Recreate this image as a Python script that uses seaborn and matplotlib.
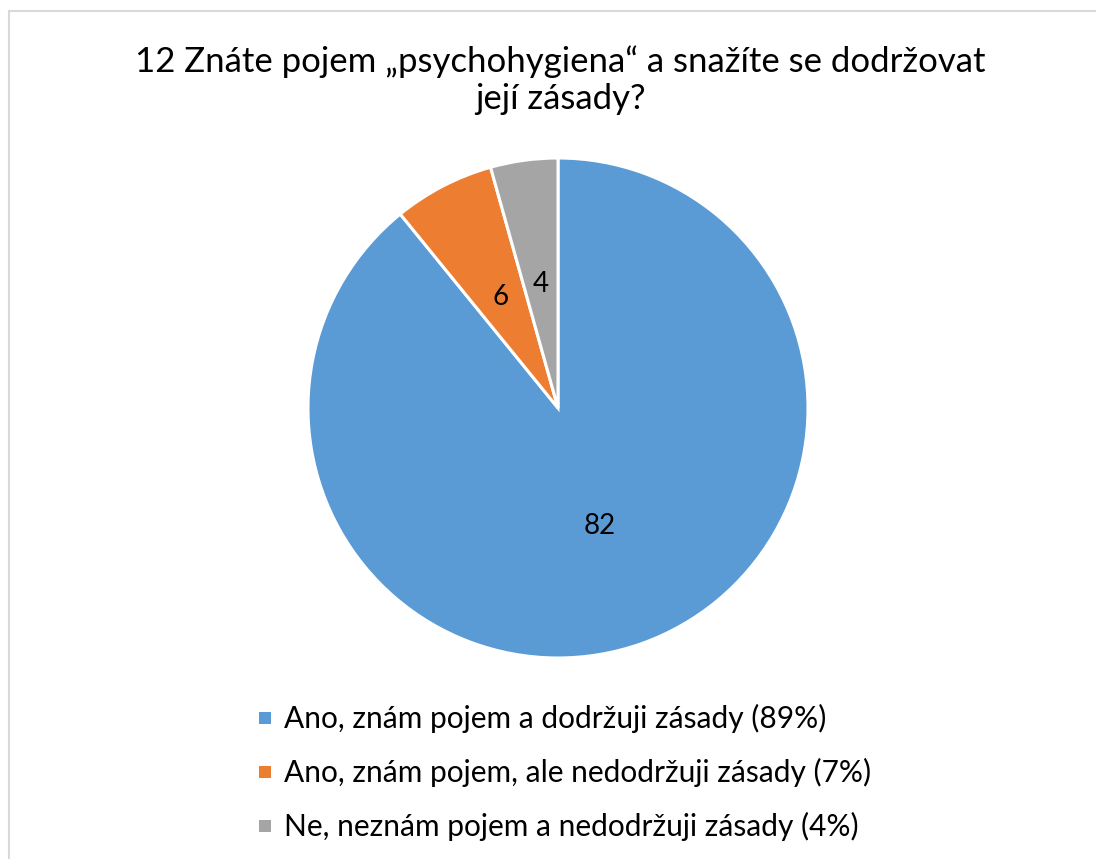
import matplotlib
matplotlib.use("Agg")
import matplotlib.pyplot as plt
import matplotlib.patches as mpatches
from matplotlib.lines import Line2D
import seaborn as sns

title = "12 Znáte pojem „psychohygiena“ a snažíte se dodržovat\njejí zásady?"
categories = [
    "Ano, znám pojem a dodržuji zásady (89%)",
    "Ano, znám pojem, ale nedodržuji zásady (7%)",
    "Ne, neznám pojem a nedodržuji zásady (4%)",
]
counts = [82, 6, 4]
colors = ["#5B9BD5", "#ED7D31", "#A5A5A5"]

sns.set_theme(style="white")
plt.rcParams["font.family"] = ["Lato", "DejaVu Sans"]

W, H = 1096, 859
fig = plt.figure(figsize=(W / 100, H / 100), dpi=100)

# chart frame: only left and top edges are visible in the crop
frame_col = "#D9D9D9"
fig.lines.append(Line2D([8.5 / W, 8.5 / W], [0, 1 - 11 / H], transform=fig.transFigure,
                        color=frame_col, linewidth=1.5))
fig.lines.append(Line2D([8.5 / W, 1], [1 - 11 / H, 1 - 11 / H], transform=fig.transFigure,
                        color=frame_col, linewidth=1.5))

cx, cy, r = 558, 408, 250
ax = fig.add_axes([(cx - r) / W, (H - cy - r) / H, 2 * r / W, 2 * r / H])
wedges, texts = ax.pie(
    counts, colors=colors, startangle=90, counterclock=False,
    wedgeprops=dict(edgecolor="white", linewidth=2.2),
    labels=[str(c) for c in counts], labeldistance=0.5,
    textprops=dict(fontsize=20, color="black", ha="center", va="center"),
)
ax.set_xlim(-1, 1)
ax.set_ylim(-1, 1)
ax.set_aspect("equal")
ax.axis("off")

fig.text(cx / W + 2 / W, 1 - 80 / H, title, ha="center", va="center",
         fontsize=25, linespacing=1.2, color="black")

for i, (lab, col) in enumerate(zip(categories, colors)):
    y = 1 - (718 + i * 54) / H
    fig.patches.append(mpatches.Rectangle((259 / W, y - 6 / H), 12 / W, 12 / H,
                                          transform=fig.transFigure,
                                          facecolor=col, edgecolor="none"))
    fig.text(284 / W, y, lab, ha="left", va="center", fontsize=21.5, color="black")

fig.savefig("out.png", dpi=100, facecolor="white")
